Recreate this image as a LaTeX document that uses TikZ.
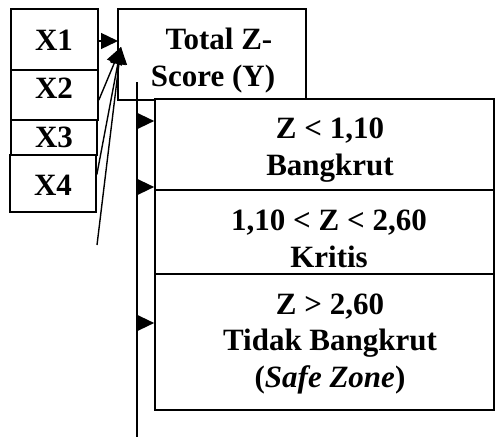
\documentclass[tikz,border=0pt]{standalone}
\usepackage{fontspec}
\setmainfont{Liberation Serif}
\usetikzlibrary{arrows.meta,calc}
\begin{document}
\begin{tikzpicture}[x=1pt,y=-1pt,
  box/.style={draw,line width=1.7pt,inner sep=0pt},
  txt/.style={inner sep=0pt,anchor=base,align=center,font=\fontsize{31}{36.5}\selectfont\bfseries},
  arr/.style={line width=1.4pt,-{Triangle[length=17pt,width=16pt]}},
]
\useasboundingbox (0,0) rectangle (496,447);

% input variables
\node[box,minimum width=87pt,minimum height=61pt] (X1) at (54.5,39.5) {};
\node[box,minimum width=87pt,minimum height=50pt] (X2) at (54.5,95) {};
\node[box,minimum width=86pt,minimum height=35pt] (X3) at (54,137.5) {};
\node[box,minimum width=86pt,minimum height=57pt] (X4) at (53,183.5) {};
\node[txt] (tX1) at (54,50) {X1};
\node[txt] (tX2) at (54,98) {X2};
\node[txt] (tX3) at (54,147) {X3};
\node[txt] (tX4) at (53,195) {X4};

% total score (base anchor sits on the last line)
\node[box,fill=white,minimum width=188pt,minimum height=91pt] (T) at (212,54.5) {};
\node[txt] (tT) at (213,86) {\hspace*{12pt}Total Z-\\Score (Y)};

% classification zones
\node[box,fill=white,minimum width=339pt,minimum height=91pt] (B1) at (324.5,144.5) {};
\node[box,minimum width=339pt,minimum height=84pt] (B2) at (324.5,232) {};
\node[box,minimum width=339pt,minimum height=136pt] (B3) at (324.5,342) {};
\node[txt] (tB1) at (330,175) {Z < 1,10\\Bangkrut};
\node[txt] (tB2) at (329,267) {1,10 < Z < 2,60\\Kritis};
\node[txt] (tB3) at (330,387) {Z > 2,60\\Tidak Bangkrut\\(\textit{Safe Zone})};

% vertical distribution line
\coordinate (vtop) at (137,82);
\coordinate (vbot) at (137,437);
\draw[line width=1.4pt] (vtop) -- (vbot);
\coordinate (v1) at (137,121);
\coordinate (v2) at (137,187);
\coordinate (v3) at (137,323);
\draw[arr] (v1) -- (v1 -| B1.west);
\draw[arr] (v2) -- (v2 -| B2.west);
\draw[arr] (v3) -- (v3 -| B3.west);

% arrows into the total score
\coordinate (t1) at (118,41);
\coordinate (t2) at (121,47);
\coordinate (f) at (97,245);
\draw[arr] (X1.east |- t1) -- (t1);
\draw[arr] ($(X2.east)+(0,5)$) -- (t2);
\draw[arr] ($(X4.east)+(0,-9)$) -- (t2);
\draw[arr] (f) -- (t2);
\end{tikzpicture}
\end{document}
